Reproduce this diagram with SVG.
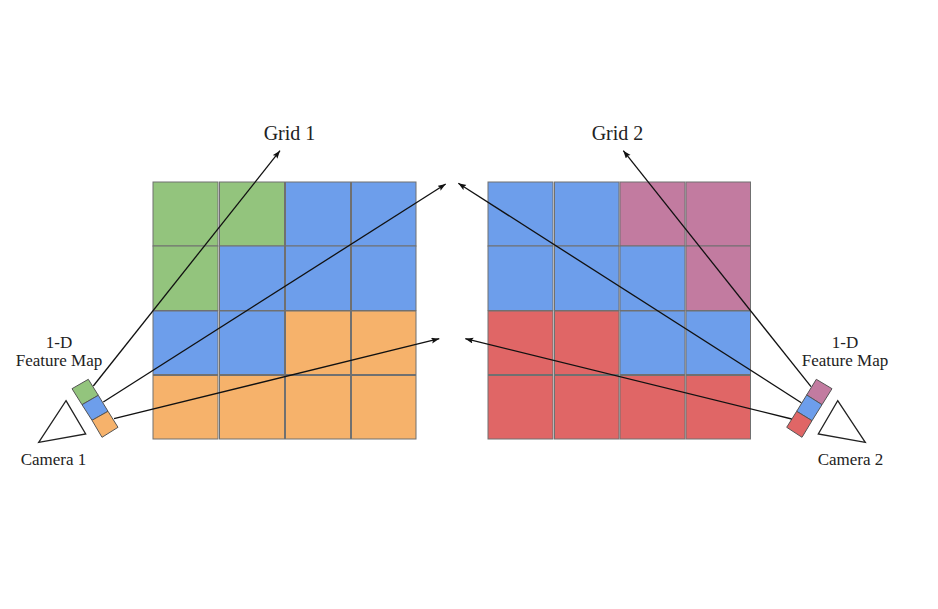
<svg xmlns="http://www.w3.org/2000/svg" width="938" height="609" viewBox="0 0 938 609">
<style>
text{font-family:"Liberation Serif","Times New Roman",serif;fill:#222;text-anchor:middle}
.t{font-size:20px}.s{font-size:17px}
.c{stroke:#707070;stroke-width:1}
.f{stroke:#555;stroke-width:1}
.g{fill:#93c47d}.b{fill:#6d9eeb}.o{fill:#f6b26b}.p{fill:#c27ba0}.r{fill:#e06666}
.cam{fill:#fff;stroke:#222;stroke-width:1.3;stroke-linejoin:miter}
.a{fill:none;stroke:#111;stroke-width:1.3;marker-end:url(#h)}
</style>
<defs>
<marker id="h" markerUnits="userSpaceOnUse" markerWidth="9" markerHeight="7" refX="8" refY="3" orient="auto"><path d="M0 0L8 3L0 6L1.5 3Z" fill="#111"/></marker>
</defs>
<rect width="938" height="609" fill="#fff"/>
<g id="grid-1">
<rect class="c g" x="153" y="182" width="65" height="64"/><rect class="c g" x="219.500" y="182" width="65" height="64"/><rect class="c b" x="285.500" y="182" width="65" height="64"/><rect class="c b" x="351.500" y="182" width="64.500" height="64"/>
<rect class="c g" x="153" y="246" width="65" height="64.500"/><rect class="c b" x="219.500" y="246" width="65" height="64.500"/><rect class="c b" x="285.500" y="246" width="65" height="64.500"/><rect class="c b" x="351.500" y="246" width="64.500" height="64.500"/>
<rect class="c b" x="153" y="311" width="65" height="63.500"/><rect class="c b" x="219.500" y="311" width="65" height="63.500"/><rect class="c o" x="285.500" y="311" width="65" height="63.500"/><rect class="c o" x="351.500" y="311" width="64.500" height="63.500"/>
<rect class="c o" x="153" y="375.500" width="65" height="63.500"/><rect class="c o" x="219.500" y="375.500" width="65" height="63.500"/><rect class="c o" x="285.500" y="375.500" width="65" height="63.500"/><rect class="c o" x="351.500" y="375.500" width="64.500" height="63.500"/>
</g>
<g id="grid-2">
<rect class="c b" x="488" y="182" width="65" height="64"/><rect class="c b" x="554.500" y="182" width="64.500" height="64"/><rect class="c p" x="620" y="182" width="65" height="64"/><rect class="c p" x="686" y="182" width="64.500" height="64"/>
<rect class="c b" x="488" y="246" width="65" height="64.500"/><rect class="c b" x="554.500" y="246" width="64.500" height="64.500"/><rect class="c b" x="620" y="246" width="65" height="64.500"/><rect class="c p" x="686" y="246" width="64.500" height="64.500"/>
<rect class="c r" x="488" y="311" width="65" height="63.500"/><rect class="c r" x="554.500" y="311" width="64.500" height="63.500"/><rect class="c b" x="620" y="311" width="65" height="63.500"/><rect class="c b" x="686" y="311" width="64.500" height="63.500"/>
<rect class="c r" x="488" y="375.500" width="65" height="63.500"/><rect class="c r" x="554.500" y="375.500" width="64.500" height="63.500"/><rect class="c r" x="620" y="375.500" width="65" height="63.500"/><rect class="c r" x="686" y="375.500" width="64.500" height="63.500"/>
</g>
<g id="feature-map-1">
<polygon class="f g" points="72,388.700 88.300,379.300 98.300,395.300 82,404.700"/>
<polygon class="f b" points="82,404.700 98.300,395.300 108,411.300 92,420.300"/>
<polygon class="f o" points="92,420.300 108,411.300 118,427.300 102,437.300"/>
</g>
<g id="feature-map-2">
<polygon class="f p" points="816.300,379.300 832,388.700 822,404.700 806.700,395"/>
<polygon class="f b" points="806.700,395 822,404.700 812,420.700 796.700,411.300"/>
<polygon class="f r" points="796.700,411.300 812,420.700 802,437.300 786.700,427.300"/>
</g>
<g id="camera-1"><polygon class="cam" points="66,400.700 85.700,434 38.700,442.300"/><text class="s" x="53.500" y="465">Camera 1</text></g>
<g id="camera-2"><polygon class="cam" points="837.700,400.700 865.300,442.300 818.300,434"/><text class="s" x="850.500" y="465">Camera 2</text></g>
<g id="label-1"><text class="s" x="59" y="348">1-D</text><text class="s" x="59" y="366">Feature Map</text></g>
<g id="label-2"><text class="s" x="845" y="348">1-D</text><text class="s" x="845" y="366">Feature Map</text></g>
<g id="title-1"><text class="t" x="289.500" y="140">Grid 1</text></g>
<g id="title-2"><text class="t" x="617.500" y="140">Grid 2</text></g>
<g id="connectors">
<line class="a" x1="93.300" y1="386" x2="280" y2="150.700"/>
<line class="a" x1="103.300" y1="402" x2="445.700" y2="184"/>
<line class="a" x1="114" y1="418.700" x2="439.300" y2="338.700"/>
<line class="a" x1="811" y1="386.700" x2="623.300" y2="150.700"/>
<line class="a" x1="801.300" y1="402.700" x2="458.300" y2="183.300"/>
<line class="a" x1="791.700" y1="419" x2="465.300" y2="338.700"/>
</g>
</svg>
